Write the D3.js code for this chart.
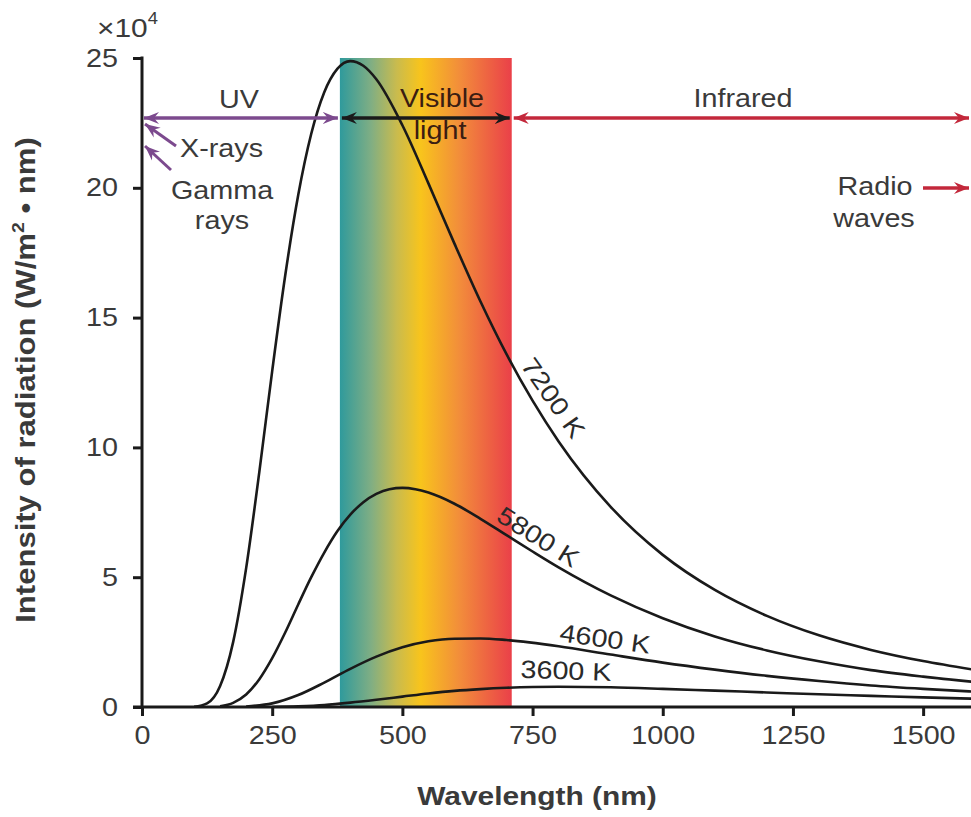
<!DOCTYPE html>
<html>
<head>
<meta charset="utf-8">
<script src="https://cdn.jsdelivr.net/npm/d3@7"></script>
<style>
  html, body { margin: 0; padding: 0; background: #fff; }
  svg { display: block; font-family: "Liberation Sans", Arial, Helvetica, sans-serif; }
</style>
</head>
<body>
<svg id="chart" width="971" height="817"></svg>
<script>
// Blackbody spectral curves: wavelength (nm) vs intensity (×10^4 W/m²·nm)
const wl7200 = [100,125,150,175,200,225,250,275,300,325,350,375,400,425,450,500,550,600,650,700,750,800,900,1000,1100,1200,1300,1400,1500,1600];
const val7200 = [0.01,0.14,0.81,2.50,5.35,9.01,12.94,16.62,19.72,22.08,23.68,24.58,24.88,24.70,24.18,22.41,20.17,17.85,15.62,13.59,11.80,10.23,7.71,5.86,4.51,3.51,2.76,2.20,1.77,1.43];

const wl5800 = [150,175,200,225,250,275,300,325,350,375,400,425,450,475,500,525,550,600,650,700,750,800,900,1000,1100,1200,1300,1400,1500,1600];
const val5800 = [0.03,0.16,0.48,1.06,1.88,2.87,3.95,5.00,5.95,6.77,7.41,7.89,8.21,8.39,8.44,8.39,8.26,7.83,7.25,6.62,5.99,5.38,4.30,3.42,2.72,2.18,1.76,1.42,1.17,0.96];

const wl4600 = [200,250,300,350,400,450,500,550,600,650,700,800,900,1000,1100,1200,1300,1400,1500,1600];
const val4600 = [0.02,0.14,0.46,0.94,1.47,1.94,2.30,2.53,2.63,2.64,2.58,2.34,2.02,1.71,1.44,1.20,1.00,0.83,0.70,0.59];

const wl3600 = [250,300,350,400,450,500,550,600,650,700,750,800,900,1000,1100,1200,1300,1400,1500,1600];
const val3600 = [0.00,0.03,0.08,0.17,0.28,0.40,0.52,0.62,0.69,0.74,0.77,0.78,0.76,0.70,0.63,0.56,0.49,0.43,0.37,0.32];

const xTicks = [0, 250, 500, 750, 1000, 1250, 1500];
const yTicks = [0, 5, 10, 15, 20, 25];

// Spectral ranges (nm)
const visibleRange = [380, 710];

const curves = [
  { name: "7200 K", wl: wl7200, val: val7200 },
  { name: "5800 K", wl: wl5800, val: val5800 },
  { name: "4600 K", wl: wl4600, val: val4600 },
  { name: "3600 K", wl: wl3600, val: val3600 }
];

const SX = 1.15;           // horizontal stretch applied to lettering
const textColor = "#3a3a3a";
const svg = d3.select("#chart");
const x = d3.scaleLinear().domain([0, 1590]).range([142, 970]);
const y = d3.scaleLinear().domain([0, 25]).range([707, 58]);

const defs = svg.append("defs");
const grad = defs.append("linearGradient").attr("id", "visGrad")
  .attr("x1", "0%").attr("x2", "100%").attr("y1", "0%").attr("y2", "0%");
[["0%", "#2f9a9c"], ["18%", "#7fae84"], ["33%", "#c9bb4e"], ["47%", "#f8c41c"], ["70%", "#f28c3b"], ["100%", "#ea4049"]]
  .forEach(([o, c]) => grad.append("stop").attr("offset", o).attr("stop-color", c));

defs.append("clipPath").attr("id", "plotClip")
  .append("rect").attr("x", 142).attr("y", 40).attr("width", 829).attr("height", 668);

// Arrowhead markers
function marker(id, color) {
  defs.append("marker").attr("id", id)
    .attr("viewBox", "-15 -7 17 14").attr("refX", 0).attr("refY", 0)
    .attr("markerWidth", 17).attr("markerHeight", 14)
    .attr("markerUnits", "userSpaceOnUse").attr("orient", "auto-start-reverse")
    .append("path").attr("d", "M0,0 L-15,-6 L-10,0 L-15,6 Z").attr("fill", color);
}
const purple = "#7c4a8e", red = "#c3283b", dark = "#1a1a1a";
marker("arrP", purple);
marker("arrR", red);
marker("arrK", dark);

// Text helper: centred on (cx, cy), optional rotation
function label(t, cx, cy, opt = {}) {
  const el = svg.append("text")
    .attr("transform", `translate(${cx},${cy}) rotate(${opt.rot || 0}) scale(${SX},1)`)
    .attr("text-anchor", opt.anchor || "middle").attr("dominant-baseline", "central")
    .attr("font-size", opt.size || 25).attr("fill", opt.fill || textColor)
    .attr("font-weight", opt.bold ? "bold" : null);
  if (t !== null) el.text(t);
  return el;
}

// Visible band
svg.append("rect")
  .attr("x", x(visibleRange[0])).attr("y", y(25))
  .attr("width", x(visibleRange[1]) - x(visibleRange[0]))
  .attr("height", y(0) - y(25))
  .attr("fill", "url(#visGrad)");

// Axes
const yAxis = d3.axisLeft(y).tickValues(yTicks).tickSize(9).tickSizeOuter(0).tickFormat(d3.format("d"));
const xAxis = d3.axisBottom(x).tickValues(xTicks).tickSize(9).tickSizeOuter(0).tickPadding(10).tickFormat(d3.format("d"));

const gy = svg.append("g").attr("transform", "translate(142,0)").call(yAxis);
const gx = svg.append("g").attr("transform", "translate(0,707)").call(xAxis);
[gx, gy].forEach(g => {
  g.select(".domain").remove();
  g.selectAll(".tick line").attr("stroke", dark).attr("stroke-width", 3);
  g.selectAll(".tick text").attr("fill", textColor).attr("font-size", 25)
    .attr("font-family", "\"Liberation Sans\", Arial, sans-serif")
    .attr("transform", `scale(${SX},1)`);
});
gy.selectAll(".tick text").attr("x", -24 / SX);
svg.append("line").attr("x1", 142).attr("x2", 142).attr("y1", y(25) - 1.5).attr("y2", y(0) + 1.5)
  .attr("stroke", dark).attr("stroke-width", 3);
svg.append("line").attr("x1", 133).attr("x2", 971).attr("y1", y(0)).attr("y2", y(0))
  .attr("stroke", dark).attr("stroke-width", 3);

// Curves
const line = d3.line().x(d => x(d[0])).y(d => y(d[1])).curve(d3.curveMonotoneX);
const gc = svg.append("g").attr("clip-path", "url(#plotClip)");
curves.forEach(c => {
  gc.append("path")
    .datum(c.wl.map((w, i) => [w, c.val[i]]))
    .attr("d", line)
    .attr("fill", "none").attr("stroke", dark).attr("stroke-width", 2.6);
});

// Curve labels
[
  { t: "7200 K", cx: 553, cy: 398, rot: 55 },
  { t: "5800 K", cx: 538, cy: 537, rot: 32 },
  { t: "4600 K", cx: 605, cy: 639, rot: 8 },
  { t: "3600 K", cx: 566, cy: 671, rot: 2 }
].forEach(l => label(l.t, l.cx, l.cy, { rot: l.rot, fill: "#2a2a2a" }));

// Region arrows
const arrowY = 118;
svg.append("line").attr("x1", x(0) + 2).attr("x2", x(visibleRange[0]) - 2)
  .attr("y1", arrowY).attr("y2", arrowY).attr("stroke", purple).attr("stroke-width", 3.5)
  .attr("marker-start", "url(#arrP)").attr("marker-end", "url(#arrP)");
svg.append("line").attr("x1", x(visibleRange[0]) + 2).attr("x2", x(visibleRange[1]) - 2)
  .attr("y1", arrowY).attr("y2", arrowY).attr("stroke", dark).attr("stroke-width", 3.5)
  .attr("marker-start", "url(#arrK)").attr("marker-end", "url(#arrK)");
svg.append("line").attr("x1", x(visibleRange[1]) + 2).attr("x2", 969)
  .attr("y1", arrowY).attr("y2", arrowY).attr("stroke", red).attr("stroke-width", 3.5)
  .attr("marker-start", "url(#arrR)").attr("marker-end", "url(#arrR)");

// X-ray and gamma pointers
svg.append("line").attr("x1", 176).attr("y1", 146).attr("x2", 145).attr("y2", 124)
  .attr("stroke", purple).attr("stroke-width", 3).attr("marker-end", "url(#arrP)");
svg.append("line").attr("x1", 171).attr("y1", 170).attr("x2", 145).attr("y2", 146)
  .attr("stroke", purple).attr("stroke-width", 3).attr("marker-end", "url(#arrP)");

// Radio pointer
svg.append("line").attr("x1", 923).attr("y1", 188).attr("x2", 969).attr("y2", 188)
  .attr("stroke", red).attr("stroke-width", 3.5).attr("marker-end", "url(#arrR)");

// Region text
[
  { t: "UV", x: 239, y: 100 },
  { t: "X-rays", x: 180, y: 149, anchor: "start" },
  { t: "Gamma", x: 222, y: 191 },
  { t: "rays", x: 222, y: 221 },
  { t: "Visible", x: 442, y: 99, fill: "#3b1d12" },
  { t: "light", x: 440, y: 131, fill: "#3b1d12" },
  { t: "Infrared", x: 743, y: 99 },
  { t: "Radio", x: 875, y: 187 },
  { t: "waves", x: 874, y: 219 }
].forEach(r => label(r.t, r.x, r.y, { anchor: r.anchor, fill: r.fill }));

// Multiplier
const mult = label(null, 97, 28, { anchor: "start", size: 26 });
mult.append("tspan").text("×10");
mult.append("tspan").text("4").attr("font-size", 16).attr("dy", -10);

// Axis titles
label("Wavelength (nm)", 537, 796, { bold: true, size: 26 });

const yt = label(null, 26, 380, { rot: -90, bold: true, size: 27 });
yt.append("tspan").text("Intensity of radiation (W/m");
yt.append("tspan").text("2").attr("font-size", 17).attr("dy", -9);
yt.append("tspan").text(" • nm)").attr("dy", 9);
</script>
</body>
</html>
